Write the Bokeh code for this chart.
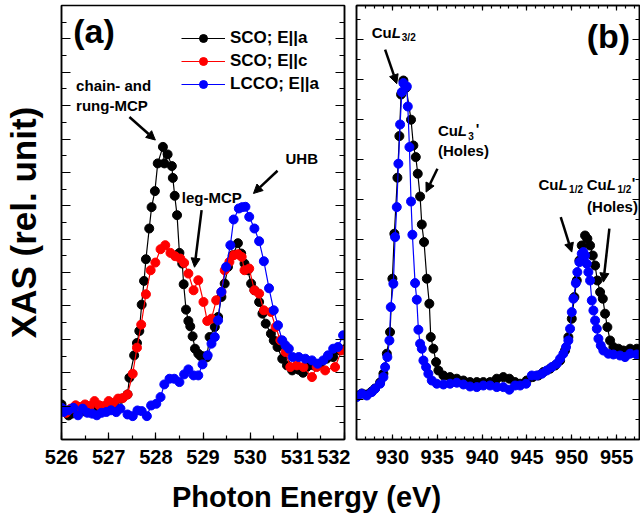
from bokeh.plotting import figure
from bokeh.models import (Range1d, LinearAxis, SingleIntervalTicker, Label, Arrow,
                          NormalHead, Legend, LegendItem)
from bokeh.layouts import row, column
from bokeh.embed import file_html
from bokeh.resources import INLINE

FONT = "Liberation Sans"

# ---------------- data: panel (a) O K-edge ----------------
a_sco_a_E = [526.00, 526.08, 526.15, 526.22, 526.30, 526.40, 526.50, 526.60, 526.70, 526.80,
             526.90, 527.00, 527.12, 527.26, 527.40, 527.44, 527.54, 527.60, 527.65, 527.70,
             527.75, 527.79, 527.86, 527.91, 527.98, 528.04, 528.15, 528.18, 528.25, 528.34,
             528.36, 528.40, 528.45, 528.50, 528.56, 528.59, 528.64, 528.69, 528.73, 528.78,
             528.83, 528.90, 528.95, 529.01, 529.08, 529.14, 529.25, 529.32, 529.39, 529.46,
             529.53, 529.63, 529.74, 529.81, 529.88, 529.95, 530.02, 530.09, 530.19, 530.26,
             530.33, 530.44, 530.50, 530.58, 530.68, 530.78, 530.89, 531.03, 531.12, 531.20,
             531.34, 531.48, 531.62, 531.76, 531.90, 532.00]
a_sco_a_I = [2.10, 1.74, 1.44, 1.55, 1.70, 1.75, 1.68, 1.80, 1.85, 1.75,
             1.95, 2.00, 2.04, 2.44, 2.70, 3.70, 5.04, 5.78, 6.50, 8.08,
             9.50, 10.80, 12.64, 13.92, 14.88, 16.54, 17.53, 16.54, 17.08, 16.38,
             15.67, 14.60, 13.44, 11.18, 10.54, 9.30, 7.78, 7.10, 6.78, 6.18,
             5.44, 5.14, 5.00, 4.98, 4.92, 6.14, 6.74, 7.34, 8.54, 9.34,
             10.34, 11.04, 11.76, 11.14, 10.54, 10.14, 9.34, 8.94, 8.24, 7.54,
             6.94, 6.34, 5.94, 5.54, 4.84, 4.44, 4.14, 4.18, 4.00, 4.34,
             4.44, 4.54, 4.84, 4.94, 5.34, 5.40]

a_sco_c_E = [526.00, 526.10, 526.20, 526.30, 526.40, 526.50, 526.60, 526.70, 526.80, 526.90,
             527.00, 527.10, 527.20, 527.30, 527.40, 527.51, 527.60, 527.69, 527.79, 527.89,
             527.99, 528.10, 528.20, 528.31, 528.41, 528.52, 528.60, 528.69, 528.80, 528.90,
             529.01, 529.09, 529.18, 529.28, 529.39, 529.46, 529.56, 529.65, 529.74, 529.82,
             529.88, 529.98, 530.09, 530.19, 530.29, 530.44, 530.54, 530.64, 530.75, 530.85,
             530.99, 531.13, 531.31, 531.41, 531.59, 531.80, 531.94]
a_sco_c_I = [1.75, 1.60, 1.85, 2.05, 1.95, 2.10, 2.00, 2.30, 2.05, 2.00,
             2.30, 2.20, 2.45, 2.48, 2.70, 3.94, 5.50, 6.88, 8.70, 10.14,
             10.60, 11.40, 11.64, 11.18, 10.98, 10.84, 10.58, 9.94, 8.94, 9.54,
             8.24, 7.10, 7.24, 8.34, 8.84, 10.14, 10.64, 11.04, 11.10, 10.94,
             10.14, 10.24, 8.94, 8.74, 7.74, 7.64, 6.74, 5.94, 5.24, 4.34,
             4.44, 4.34, 3.74, 4.34, 4.14, 4.34, 5.34]

a_lcco_E = [526.00, 526.05, 526.15, 526.25, 526.35, 526.45, 526.55, 526.65, 526.75, 526.85,
            526.95, 527.05, 527.16, 527.25, 527.40, 527.51, 527.61, 527.70, 527.81, 527.90,
            528.01, 528.10, 528.18, 528.29, 528.39, 528.50, 528.60, 528.69, 528.80, 528.90,
            528.99, 529.10, 529.18, 529.25, 529.32, 529.39, 529.49, 529.58, 529.65, 529.76,
            529.83, 529.90, 529.98, 530.09, 530.19, 530.29, 530.40, 530.50, 530.59, 530.68,
            530.75, 530.82, 530.90, 531.03, 531.17, 531.31, 531.43, 531.55, 531.65, 531.76,
            531.86, 531.97]
a_lcco_I = [1.90, 1.65, 1.75, 1.90, 1.45, 1.85, 1.60, 1.55, 1.45, 1.60,
            1.65, 1.75, 1.64, 1.85, 1.50, 1.40, 1.74, 1.70, 1.40, 2.04,
            2.14, 2.54, 3.30, 3.64, 3.64, 3.44, 3.90, 4.20, 3.84, 3.84,
            4.50, 5.04, 5.74, 6.14, 7.14, 8.84, 10.34, 11.64, 13.18, 13.84,
            13.92, 13.94, 13.34, 12.64, 11.88, 10.68, 9.06, 7.74, 6.84, 5.94,
            5.64, 5.44, 4.94, 4.94, 4.84, 4.74, 4.54, 4.74, 5.04, 5.44,
            5.54, 6.24]

# ---------------- data: panel (b) Cu L-edge ----------------
b_sco_E = [926.03, 926.59, 927.15, 927.70, 928.07, 928.63, 929.00, 929.38, 929.74, 930.00,
           930.22, 930.56, 930.78, 930.97, 931.23, 931.53, 932.08, 932.34, 932.61, 932.83,
           933.09, 933.28, 933.53, 933.84, 934.12, 934.28, 934.57, 934.87, 935.13, 935.69,
           936.43, 937.18, 937.92, 938.66, 939.41, 940.14, 940.89, 941.64, 942.37, 943.04,
           943.68, 944.24, 944.98, 945.65, 946.28, 946.83, 947.58, 948.14, 948.70, 949.25,
           949.62, 950.00, 950.29, 950.56, 950.85, 951.11, 951.48, 951.74, 952.04, 952.34,
           952.60, 952.85, 953.16, 953.46, 953.71, 953.97, 954.27, 954.64, 955.20, 955.75,
           956.50, 957.25]
b_sco_I = [2.20, 2.30, 2.25, 2.40, 2.55, 2.85, 3.29, 4.29, 5.37, 8.04,
           10.29, 13.09, 15.17, 17.25, 17.95, 17.59, 15.99, 14.70, 14.12, 13.29,
           12.15, 10.75, 9.87, 8.04, 6.79, 5.12, 4.54, 3.87, 3.45, 3.20,
           3.12, 3.04, 2.95, 2.87, 2.87, 2.87, 2.87, 3.04, 3.12, 3.04,
           2.87, 2.79, 2.95, 3.12, 3.20, 3.37, 3.54, 3.70, 3.95, 4.45,
           5.12, 6.04, 7.12, 7.95, 8.95, 9.70, 10.20, 10.04, 9.70, 9.20,
           8.70, 7.95, 7.37, 7.04, 6.29, 5.62, 4.95, 4.62, 4.54, 4.45,
           4.54, 4.54]

b_lcco_E = [926.03, 926.59, 927.15, 927.70, 928.07, 928.63, 929.00, 929.19, 929.44, 929.67,
            929.82, 930.11, 930.30, 930.49, 930.67, 930.86, 931.05, 931.23, 931.61, 931.72,
            931.90, 932.08, 932.23, 932.53, 932.72, 932.90, 933.09, 933.28, 933.46, 933.76,
            934.01, 934.39, 934.95, 935.69, 936.43, 937.18, 937.92, 938.66, 939.41, 940.14,
            940.89, 941.64, 942.37, 943.04, 943.68, 944.24, 944.91, 945.54, 946.10, 946.66,
            947.21, 947.77, 948.33, 948.70, 949.06, 949.36, 949.62, 949.81, 950.00, 950.18,
            950.45, 950.62, 950.85, 951.11, 951.29, 951.48, 951.67, 951.85, 952.04, 952.23,
            952.41, 952.60, 952.79, 952.97, 953.23, 953.52, 954.08, 954.64, 955.38, 955.94,
            956.50, 957.25]
b_lcco_I = [2.12, 2.29, 2.20, 2.37, 2.54, 2.79, 3.12, 3.62, 4.12, 4.95,
            6.62, 7.79, 10.12, 11.62, 13.79, 15.75, 17.37, 17.82, 17.65, 16.65,
            14.62, 11.90, 10.24, 7.82, 6.99, 5.49, 4.79, 4.54, 3.95, 3.62,
            3.29, 2.95, 2.79, 2.75, 2.79, 2.84, 2.75, 2.65, 2.62, 2.70,
            2.70, 2.62, 2.62, 2.49, 2.70, 2.70, 2.79, 3.20, 3.20, 3.29,
            3.45, 3.62, 3.79, 4.04, 4.29, 4.62, 4.95, 5.54, 6.37, 7.04,
            7.82, 8.37, 8.87, 9.29, 9.37, 9.20, 8.79, 8.37, 7.95, 6.95,
            6.45, 5.95, 5.54, 5.04, 4.70, 4.45, 4.29, 4.25, 4.20, 4.12,
            4.29, 4.25]

legend_labels = ["SCO; E||a", "SCO; E||c", "LCCO; E||a"]
series_colors = ["#000000", "#ff0000", "#0000ff"]
x_label = "Photon Energy (eV)"
y_label = "XAS (rel. unit)"


def hide_labels(ax):
    ax.major_label_text_font_size = "1px"
    ax.major_label_text_color = None
    ax.major_label_text_alpha = 0
    ax.major_label_standoff = 0
    ax.axis_label_standoff = 0


def style_axis(ax, major_in, minor_in, lw=1.5):
    ax.major_tick_in = major_in
    ax.major_tick_out = 0
    ax.minor_tick_in = minor_in
    ax.minor_tick_out = 0
    ax.axis_line_width = lw
    ax.major_tick_line_width = 1.2
    ax.minor_tick_line_width = 1.2
    ax.axis_line_color = "black"
    ax.major_tick_line_color = "black"
    ax.minor_tick_line_color = "black"


def style_xlabels(ax):
    ax.major_label_text_font = FONT
    ax.major_label_text_font_style = "bold"
    ax.major_label_text_font_size = "20px"
    ax.major_label_text_color = "black"
    ax.major_label_standoff = 10


def add_label(p, x, y, text, size="15px", style="bold", align="left"):
    p.add_layout(Label(x=x, y=y, text=text, text_font=FONT, text_font_size=size,
                       text_font_style=style, text_baseline="middle", text_align=align,
                       text_color="black"))


def add_arrow(p, x0, y0, x1, y1):
    p.add_layout(Arrow(end=NormalHead(size=9, fill_color="black", line_color="black", line_width=1),
                       x_start=x0, y_start=y0, x_end=x1, y_end=y1,
                       line_width=2.5, line_color="black"))


# ---------------- panel (a) ----------------
p1 = figure(width=350, height=479, x_range=Range1d(526, 532), y_range=Range1d(0, 26.0),
            output_backend="svg", toolbar_location=None,
            min_border_left=58, min_border_right=6, min_border_top=5, min_border_bottom=40)
p1.grid.visible = False
p1.outline_line_color = "black"
p1.outline_line_width = 1.5

p1.xaxis.ticker = SingleIntervalTicker(interval=1, num_minor_ticks=2)
style_axis(p1.xaxis[0], 7, 4)
style_xlabels(p1.xaxis[0])

p1.yaxis.ticker = SingleIntervalTicker(interval=2, num_minor_ticks=2)
style_axis(p1.yaxis[0], 9, 5)
hide_labels(p1.yaxis[0])
p1.yaxis.axis_label = y_label
p1.yaxis.axis_label_text_font = FONT
p1.yaxis.axis_label_text_font_style = "bold"
p1.yaxis.axis_label_text_font_size = "35px"
p1.yaxis.axis_label_text_color = "black"
p1.yaxis.axis_label_standoff = 19

ra = LinearAxis(ticker=SingleIntervalTicker(interval=2, num_minor_ticks=2))
style_axis(ra, 9, 5)
hide_labels(ra)
p1.add_layout(ra, "right")

series_a = [(a_sco_a_E, a_sco_a_I), (a_sco_c_E, a_sco_c_I), (a_lcco_E, a_lcco_I)]
items = []
for (xs, ys), col, lab in zip(series_a, series_colors, legend_labels):
    ln = p1.line(xs, ys, line_color=col, line_width=1.2)
    sc = p1.scatter(xs, ys, marker="circle", size=9, fill_color=col, line_color=col)
    items.append(LegendItem(label=lab, renderers=[ln, sc]))

legend = Legend(items=items, location=(120, 345), border_line_color=None,
                background_fill_alpha=0, label_text_font=FONT, label_text_font_style="bold",
                label_text_font_size="17px", label_text_color="black",
                glyph_width=44, glyph_height=20, label_height=20,
                spacing=3, padding=0, margin=0, label_standoff=5)
p1.add_layout(legend)

add_label(p1, 526.25, 24.45, "(a)", size="34px")
add_label(p1, 526.31, 21.2, "chain- and")
add_label(p1, 526.31, 20.0, "rung-MCP")
add_arrow(p1, 527.44, 19.32, 527.99, 17.94)
add_label(p1, 528.55, 14.52, "leg-MCP")
add_arrow(p1, 528.97, 13.74, 528.82, 10.32)
add_label(p1, 530.75, 16.86, "UHB")
add_arrow(p1, 530.58, 16.10, 530.07, 14.74)

# ---------------- panel (b) ----------------
p2 = figure(width=290, height=479, x_range=Range1d(926, 957.55), y_range=Range1d(0, 21.7),
            output_backend="svg", toolbar_location=None,
            min_border_left=6, min_border_right=1, min_border_top=5, min_border_bottom=40)
p2.grid.visible = False
p2.outline_line_color = "black"
p2.outline_line_width = 1.5

p2.xaxis.ticker = SingleIntervalTicker(interval=5, num_minor_ticks=5)
style_axis(p2.xaxis[0], 5, 3)
style_xlabels(p2.xaxis[0])

ta = LinearAxis(ticker=SingleIntervalTicker(interval=5, num_minor_ticks=5))
style_axis(ta, 5, 3)
hide_labels(ta)
p2.add_layout(ta, "above")

p2.yaxis.ticker = SingleIntervalTicker(interval=2, num_minor_ticks=2)
style_axis(p2.yaxis[0], 7, 4)
hide_labels(p2.yaxis[0])

rb = LinearAxis(ticker=SingleIntervalTicker(interval=2, num_minor_ticks=2))
style_axis(rb, 7, 4)
hide_labels(rb)
p2.add_layout(rb, "right")

for (xs, ys), col in zip([(b_sco_E, b_sco_I), (b_lcco_E, b_lcco_I)], [series_colors[0], series_colors[2]]):
    p2.line(xs, ys, line_color=col, line_width=1.2)
    p2.scatter(xs, ys, marker="circle", size=9, fill_color=col, line_color=col)

add_label(p2, 956.5, 20.2, "(b)", size="34px", align="right")

add_label(p2, 927.70, 20.35, "Cu")
add_label(p2, 929.93, 20.35, "L", style="bold italic")
add_label(p2, 931.05, 20.1, "3/2", size="10px")
add_arrow(p2, 929.19, 19.49, 930.49, 17.79)

add_label(p2, 935.09, 15.45, "Cu")
add_label(p2, 937.30, 15.45, "L", style="bold italic")
add_label(p2, 938.45, 15.2, "3", size="10px")
add_label(p2, 939.30, 15.55, "'")
add_label(p2, 935.09, 14.45, "(Holes)")
add_arrow(p2, 935.02, 13.54, 933.76, 12.37)

add_label(p2, 946.28, 12.75, "Cu")
add_label(p2, 948.51, 12.75, "L", style="bold italic")
add_label(p2, 949.70, 12.5, "1/2", size="10px")
add_label(p2, 951.67, 12.75, "Cu")
add_label(p2, 953.90, 12.75, "L", style="bold italic")
add_label(p2, 955.10, 12.5, "1/2", size="10px")
add_label(p2, 956.69, 12.85, "'")
add_label(p2, 951.71, 11.65, "(Holes)")
add_arrow(p2, 948.77, 11.12, 950.00, 9.37)
add_arrow(p2, 954.19, 10.54, 953.52, 7.87)

# ---------------- shared x label ----------------
p3 = figure(width=640, height=36, x_range=Range1d(0, 640), y_range=Range1d(0, 36),
            output_backend="svg", toolbar_location=None, x_axis_location=None,
            y_axis_location=None, min_border=0)
p3.grid.visible = False
p3.outline_line_color = None
p3.add_layout(Label(x=306, y=19, text=x_label, text_font=FONT, text_font_size="29px",
                    text_font_style="bold", text_align="center", text_baseline="middle",
                    text_color="black"))

layout = column(row(p1, p2), p3)
open("out.html", "w").write(file_html(layout, INLINE))
